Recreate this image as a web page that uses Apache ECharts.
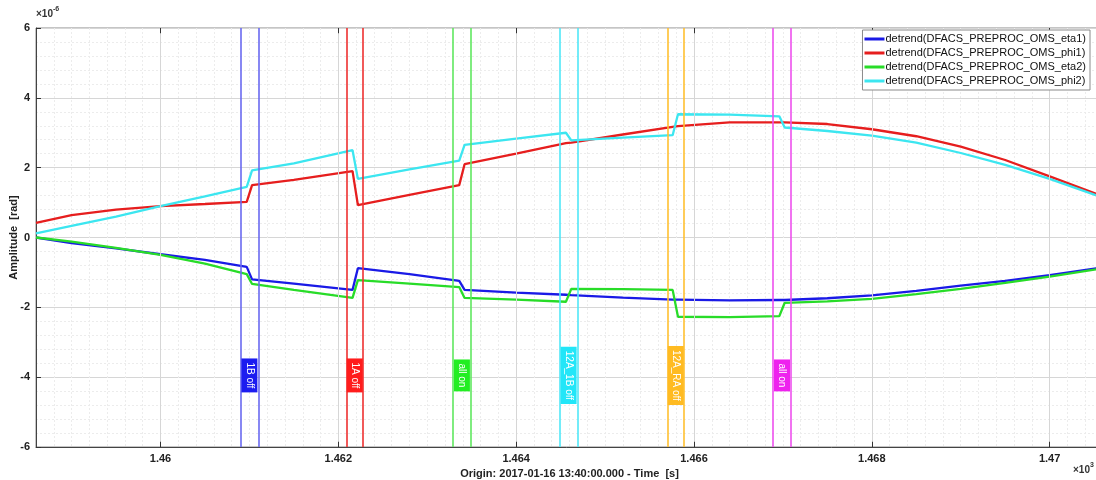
<!DOCTYPE html>
<html>
<head>
<meta charset="utf-8">
<script src="https://cdn.jsdelivr.net/npm/echarts@6/dist/echarts.min.js"></script>
<style>
  html, body { margin: 0; padding: 0; background: #fff; }
  #chart { width: 1096px; height: 480px; }
</style>
</head>
<body>
<div id="chart"></div>
<script>
// Time stamps [s], shared by all four channels (steps use two close samples)
const times = [1458.6, 1459.0, 1459.5, 1460.0, 1460.5, 1460.97, 1461.03, 1461.5,
  1462.16, 1462.22, 1462.8, 1463.36, 1463.42, 1464.0, 1464.56, 1464.62, 1465.2,
  1465.76, 1465.82, 1466.4, 1466.96, 1467.02, 1467.5, 1468.0, 1468.5, 1469.0,
  1469.5, 1470.0, 1470.6];

// Channel values, x1e-6 rad
const eta1 = [0, -0.16, -0.31, -0.48, -0.64, -0.84, -1.2, -1.32,
  -1.5, -0.88, -1.05, -1.24, -1.5, -1.58, -1.64, -1.65, -1.72,
  -1.78, -1.78, -1.8, -1.79, -1.79, -1.74, -1.66, -1.53, -1.38,
  -1.24, -1.08, -0.86];
const phi1 = [0.42, 0.64, 0.8, 0.9, 0.96, 1.02, 1.5, 1.65,
  1.9, 0.93, 1.22, 1.5, 2.1, 2.4, 2.7, 2.72, 2.95,
  3.17, 3.19, 3.3, 3.3, 3.3, 3.25, 3.1, 2.9, 2.6,
  2.22, 1.75, 1.18];
const eta2 = [0, -0.12, -0.3, -0.5, -0.75, -1.05, -1.33, -1.5,
  -1.73, -1.22, -1.32, -1.42, -1.73, -1.78, -1.84, -1.47, -1.48,
  -1.5, -2.27, -2.28, -2.25, -1.87, -1.83, -1.76, -1.62, -1.47,
  -1.3, -1.12, -0.88];
const phi2 = [0.12, 0.33, 0.6, 0.9, 1.18, 1.45, 1.92, 2.12,
  2.5, 1.68, 1.95, 2.2, 2.65, 2.83, 3.0, 2.78, 2.86,
  2.93, 3.53, 3.52, 3.47, 3.15, 3.05, 2.92, 2.72, 2.42,
  2.08, 1.68, 1.14];

const seriesNames = [
  'detrend(DFACS_PREPROC_OMS_eta1)',
  'detrend(DFACS_PREPROC_OMS_phi1)',
  'detrend(DFACS_PREPROC_OMS_eta2)',
  'detrend(DFACS_PREPROC_OMS_phi2)'
];
const seriesValues = [eta1, phi1, eta2, phi2];
const seriesColors = ['#1a1ae6', '#e61e1e', '#28dc28', '#3ce6f0'];

// Event markers: start/end time of each event window and its tag
const markerStart = [1460.90, 1462.09, 1463.29, 1464.49, 1465.70, 1466.89];
const markerEnd   = [1461.10, 1462.28, 1463.49, 1464.69, 1465.89, 1467.09];
const markerLabels = ['1B off', '1A off', 'all on', '12A_1B off', '12A_RA off', 'all on'];
const markerLineColors = ['#6a6af0', '#ee3030', '#60e860', '#50e8f8', '#ffc030', '#ee50ee'];
const markerFillColors = ['#1c1cf0', '#ff1c1c', '#22ee22', '#22e6f8', '#ffbb22', '#ee22ee'];
const markerTagY = -3.95;

// Axis ticks
const xMajorTicks = [1460, 1462, 1464, 1466, 1468, 1470];
const yTicks = [-6, -4, -2, 0, 2, 4, 6];

const X_MIN = 1458.6, X_MAX = 1470.6, Y_MIN = -6, Y_MAX = 6;
const FONT = '"Liberation Sans", Arial, sans-serif';

const chart = echarts.init(document.getElementById('chart'), null, { renderer: 'canvas' });

function isMajor(v) {
  return Math.abs(v / 2 - Math.round(v / 2)) < 1e-6;
}

// Major vertical grid lines and inward ticks (top & bottom)
const gridLineData = xMajorTicks.map(t => ({
  xAxis: t,
  lineStyle: { color: '#d6d6d6', width: 1, type: 'solid' }
}));
const tickSegLen = 0.15;
xMajorTicks.forEach(t => {
  gridLineData.push([
    { coord: [t, Y_MIN], lineStyle: { color: '#333', width: 1, type: 'solid' } },
    { coord: [t, Y_MIN + tickSegLen] }
  ]);
  gridLineData.push([
    { coord: [t, Y_MAX], lineStyle: { color: '#333', width: 1, type: 'solid' } },
    { coord: [t, Y_MAX - tickSegLen] }
  ]);
});

// Event marker vertical lines
const markerLineData = [];
markerStart.forEach((t, i) => {
  [t, markerEnd[i]].forEach(x => {
    markerLineData.push({
      xAxis: x,
      lineStyle: { color: markerLineColors[i], width: 1.6, type: 'solid' }
    });
  });
});

const series = [];

series.push({
  name: '_grid',
  type: 'line',
  data: [],
  z: 1,
  silent: true,
  markLine: {
    silent: true,
    symbol: ['none', 'none'],
    label: { show: false },
    animation: false,
    data: gridLineData
  }
});

series.push({
  name: '_markers',
  type: 'line',
  data: [],
  z: 2,
  silent: true,
  markLine: {
    silent: true,
    symbol: ['none', 'none'],
    label: { show: false },
    animation: false,
    data: markerLineData
  }
});

seriesNames.forEach((name, i) => {
  series.push({
    name: name,
    type: 'line',
    z: 3,
    showSymbol: false,
    symbol: 'none',
    lineStyle: { color: seriesColors[i], width: 2.3 },
    itemStyle: { color: seriesColors[i] },
    data: times.map((t, k) => [t, seriesValues[i][k]])
  });
});

// Event tags: coloured boxes with vertical text
series.push({
  name: '_tags',
  type: 'scatter',
  z: 5,
  symbolSize: 0,
  silent: true,
  itemStyle: { opacity: 1 },
  data: markerStart.map((t, i) => ({
    value: [(t + markerEnd[i]) / 2, markerTagY],
    label: {
      show: true,
      position: 'inside',
      formatter: markerLabels[i],
      rotate: -90,
      color: '#ffffff',
      opacity: 1,
      fontSize: 10,
      fontFamily: FONT,
      backgroundColor: markerFillColors[i],
      padding: [3, 4, 2, 4],
      lineHeight: 11
    }
  }))
});

const option = {
  animation: false,
  backgroundColor: '#ffffff',
  grid: {
    left: 36, top: 28, right: -7, bottom: 33,
    show: true, borderColor: '#8a8a8a', borderWidth: 1,
    containLabel: false,
    outerBoundsMode: 'none'
  },
  legend: {
    data: seriesNames,
    orient: 'vertical',
    right: 6,
    top: 30,
    z: 20,
    zlevel: 1,
    backgroundColor: '#ffffff',
    borderColor: '#8a8a8a',
    borderWidth: 1,
    padding: [2, 4, 2, 2],
    itemGap: 0,
    itemWidth: 20,
    itemHeight: 3,
    icon: 'rect',
    textStyle: { fontFamily: FONT, fontSize: 11, color: '#111', lineHeight: 14, padding: [0, 0, 0, -4] }
  },
  xAxis: {
    type: 'value',
    min: X_MIN,
    max: X_MAX,
    interval: 0.2,
    name: 'Origin: 2017-01-16 13:40:00.000 - Time  [s]',
    nameLocation: 'middle',
    nameGap: 19,
    nameTextStyle: { fontFamily: FONT, fontSize: 11, fontWeight: 'bold', color: '#222' },
    axisLine: { show: true, onZero: false, lineStyle: { color: '#444', width: 1 } },
    axisTick: { show: false },
    axisLabel: {
      fontFamily: FONT, fontSize: 11, fontWeight: 'bold', color: '#222', margin: 6,
      showMinLabel: false, showMaxLabel: false,
      formatter: v => isMajor(v) ? String(parseFloat((v / 1000).toFixed(3))) : ''
    },
    splitLine: { show: true, lineStyle: { color: '#ececec', width: 1, type: [2, 2] } }
  },
  yAxis: {
    type: 'value',
    min: Y_MIN,
    max: Y_MAX,
    interval: 2,
    name: 'Amplitude  [rad]',
    nameLocation: 'middle',
    nameGap: 17,
    nameMoveOverlap: false,
    nameRotate: 90,
    nameTextStyle: { fontFamily: FONT, fontSize: 11, fontWeight: 'bold', color: '#222' },
    axisLine: { show: true, onZero: false, lineStyle: { color: '#444', width: 1 } },
    axisTick: { show: true, inside: true, length: 5, lineStyle: { color: '#333' } },
    axisLabel: {
      fontFamily: FONT, fontSize: 11, fontWeight: 'bold', color: '#222', margin: 6,
      formatter: v => yTicks.indexOf(v) >= 0 ? String(v) : ''
    },
    splitLine: { show: true, lineStyle: { color: '#d6d6d6', width: 1 } },
    minorTick: { show: false, splitNumber: 5 },
    minorSplitLine: { show: true, lineStyle: { color: '#ececec', width: 1, type: [2, 2] } }
  },
  graphic: [
    {
      type: 'text', left: 36, top: 6, silent: true,
      style: {
        text: '{b|\u00d710}{s|-6}',
        rich: {
          b: { fontFamily: FONT, fontSize: 10, fontWeight: 'bold', fill: '#333', padding: [5, 0, 0, 0] },
          s: { fontFamily: FONT, fontSize: 7, fontWeight: 'bold', fill: '#333', padding: [0, 0, 4, 0] }
        }
      }
    },
    {
      type: 'text', left: 1073, top: 462, silent: true,
      style: {
        text: '{b|\u00d710}{s|3}',
        rich: {
          b: { fontFamily: FONT, fontSize: 10, fontWeight: 'bold', fill: '#333', padding: [5, 0, 0, 0] },
          s: { fontFamily: FONT, fontSize: 7, fontWeight: 'bold', fill: '#333', padding: [0, 0, 4, 0] }
        }
      }
    }
  ],
  series: series
};

chart.setOption(option);
</script>
</body>
</html>
